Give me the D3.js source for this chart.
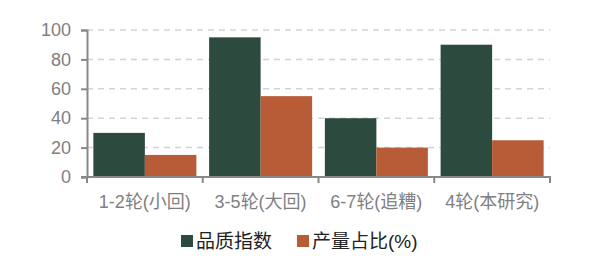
<!DOCTYPE html>
<html>
<head>
<meta charset="utf-8">
<script src="https://cdn.jsdelivr.net/npm/d3@7"></script>
<style>
  body { margin: 0; background: #fff; }
  svg { display: block; }
</style>
</head>
<body>
<script>
  const categories = ["1-2轮(小回)", "3-5轮(大回)", "6-7轮(追糟)", "4轮(本研究)"];
  const seriesNames = ["品质指数", "产量占比(%)"];
  const quality = [30, 95, 40, 90];
  const share = [15, 55, 20, 25];
  const yTicks = [0, 20, 40, 60, 80, 100];
  const colors = ["#2d4a3e", "#b85c38"];

  const width = 590, height = 263;
  const margin = { top: 30, right: 40, bottom: 86, left: 87 };
  const font = "'Liberation Sans', 'Noto Sans CJK SC', sans-serif";

  const svg = d3.select("body").append("svg")
      .attr("width", width)
      .attr("height", height);

  const x0 = d3.scaleBand()
      .domain(categories)
      .range([margin.left, width - margin.right])
      .paddingInner(0.11)
      .paddingOuter(0.055);

  const x1 = d3.scaleBand()
      .domain(seriesNames)
      .range([0, x0.bandwidth()]);

  const y = d3.scaleLinear()
      .domain([0, 100])
      .range([height - margin.bottom, margin.top]);

  // dashed grid
  svg.append("g")
      .attr("stroke", "#d4d4d4")
      .attr("stroke-width", 1.5)
      .attr("stroke-dasharray", "6,5")
    .selectAll("line")
    .data(yTicks.filter(d => d > 0))
    .join("line")
      .attr("x1", margin.left)
      .attr("x2", width - margin.right)
      .attr("y1", d => y(d))
      .attr("y2", d => y(d));

  // bars
  const rows = categories.map((c, i) => ({ cat: c, vals: [quality[i], share[i]] }));
  svg.append("g")
    .selectAll("g")
    .data(rows)
    .join("g")
      .attr("transform", d => `translate(${x0(d.cat)},0)`)
    .selectAll("rect")
    .data(d => d.vals.map((v, j) => ({ name: seriesNames[j], v, j })))
    .join("rect")
      .attr("x", d => x1(d.name))
      .attr("y", d => y(d.v))
      .attr("width", x1.bandwidth())
      .attr("height", d => y(0) - y(d.v))
      .attr("fill", d => colors[d.j]);

  const axisColor = "#888";

  // y axis
  const yAxis = svg.append("g")
      .attr("transform", `translate(${margin.left},0)`)
      .call(d3.axisLeft(y).tickValues(yTicks).tickSize(6).tickPadding(10));
  yAxis.select(".domain").attr("stroke", axisColor).attr("stroke-width", 2);
  yAxis.selectAll(".tick line").attr("stroke", axisColor).attr("stroke-width", 2);
  yAxis.selectAll("text")
      .attr("fill", "#7f7f7f")
      .style("font-family", font)
      .style("font-size", "18px");

  // x axis with ticks at band boundaries
  const bounds = d3.range(categories.length + 1).map(i => margin.left + i * (width - margin.right - margin.left) / categories.length);
  const xAxis = svg.append("g");
  xAxis.append("line")
      .attr("x1", margin.left - 6)
      .attr("x2", width - margin.right + 1)
      .attr("y1", y(0))
      .attr("y2", y(0))
      .attr("stroke", axisColor)
      .attr("stroke-width", 2);
  xAxis.selectAll(".bt")
    .data(bounds)
    .join("line")
      .attr("class", "bt")
      .attr("x1", d => d)
      .attr("x2", d => d)
      .attr("y1", y(0))
      .attr("y2", y(0) + 6)
      .attr("stroke", axisColor)
      .attr("stroke-width", 2);
  xAxis.selectAll("text")
    .data(categories)
    .join("text")
      .attr("x", d => x0(d) + x0.bandwidth() / 2)
      .attr("y", y(0) + 31)
      .attr("text-anchor", "middle")
      .attr("fill", "#7f7f7f")
      .style("font-family", font)
      .style("font-size", "18px")
      .text(d => d);

  // legend
  const legendX = [181, 297];
  const legend = svg.append("g")
    .selectAll("g")
    .data(seriesNames)
    .join("g")
      .attr("transform", (d, i) => `translate(${legendX[i]},${241})`);
  legend.append("rect")
      .attr("x", 0)
      .attr("y", -6)
      .attr("width", 12)
      .attr("height", 12)
      .attr("fill", (d, i) => colors[i]);
  legend.append("text")
      .attr("x", 15)
      .attr("dy", "0.35em")
      .attr("fill", "#222")
      .style("font-family", font)
      .style("font-size", "19px")
      .text(d => d);
</script>
</body>
</html>
